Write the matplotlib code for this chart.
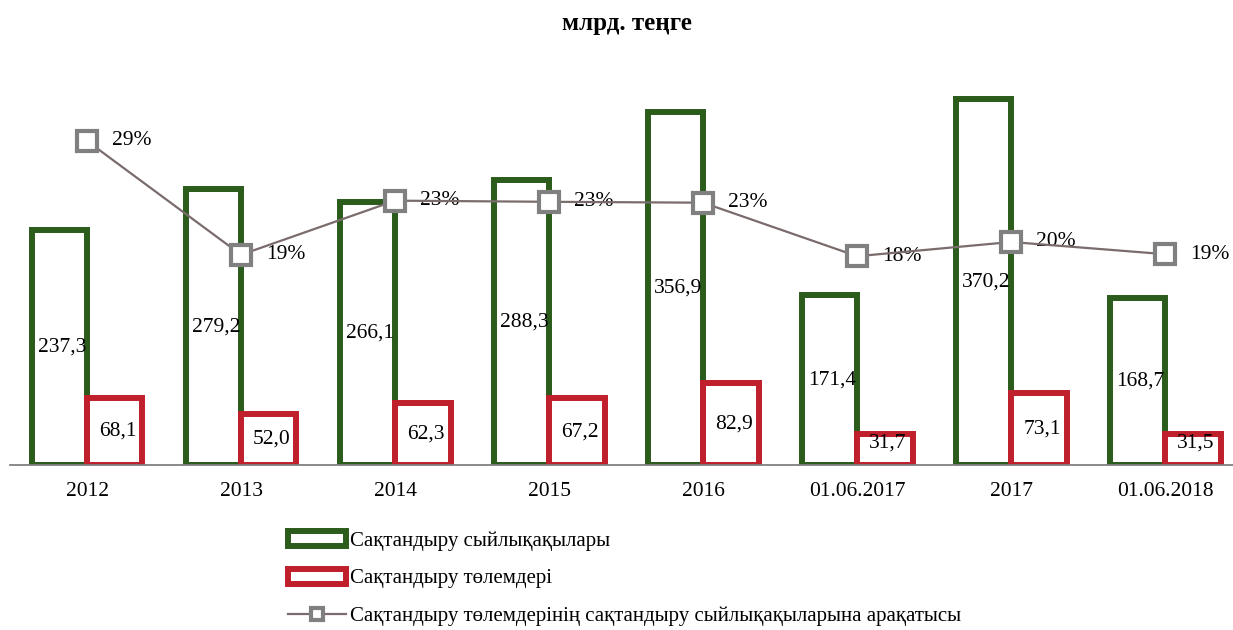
import matplotlib
matplotlib.use("Agg")
import matplotlib.pyplot as plt
import numpy as np

# данные
periods = ["2012", "2013", "2014", "2015", "2016", "01.06.2017", "2017", "01.06.2018"]
premiums = [237.3, 279.2, 266.1, 288.3, 356.9, 171.4, 370.2, 168.7]
payments = [68.1, 52.0, 62.3, 67.2, 82.9, 31.7, 73.1, 31.5]
ratio_pct = [28.70, 18.62, 23.41, 23.31, 23.23, 18.49, 19.75, 18.67]

GREEN = "#2b5c1c"
RED = "#c01f2c"
GRAY = "#808080"
LINE = "#7a6c6c"

plt.rcParams["font.family"] = ["Liberation Serif", "DejaVu Serif"]

fig = plt.figure(figsize=(12.33, 6.3), dpi=100)
ax = fig.add_axes([10 / 1233, 165 / 630, 1223 / 1233, 396 / 630])
ax2 = ax.twinx()

x = np.arange(len(periods))
w = 0.36
off = 0.18
b1 = ax.bar(x - off, premiums, w, facecolor="white", edgecolor=GREEN,
            linewidth=4.3, label="Сақтандыру сыйлықақылары", zorder=2)
b2 = ax.bar(x + off, payments, w, facecolor="white", edgecolor=RED,
            linewidth=4.3, label="Сақтандыру төлемдері", zorder=3)

for xi, v in zip(x, premiums):
    ax.text(xi - off + 0.02, v / 2, f"{v:.1f}".replace(".", ","), ha="center",
            va="center", fontsize=15.5, zorder=5)
for xi, v in zip(x, payments):
    ax.text(xi + off + 0.02, max(v / 2, 22), f"{v:.1f}".replace(".", ","), ha="center",
            va="center", fontsize=15.5, zorder=5)

ax.set_xlim(-0.5, 7.44)
ax.set_ylim(0, 400)
ax.set_yticks([])
ax.set_xticks(x)
ax.set_xticklabels(periods, fontsize=15.5)
ax.tick_params(axis="x", length=0, pad=12)
for s in ["top", "left", "right"]:
    ax.spines[s].set_visible(False)
ax.spines["bottom"].set_color(GRAY)
ax.spines["bottom"].set_linewidth(1.3)
ax.spines["bottom"].set_zorder(6)

ln, = ax2.plot(x, ratio_pct, color=LINE, linewidth=1.6, marker="s", markersize=14,
               markerfacecolor="white", markeredgecolor=GRAY, markeredgewidth=3,
               label="Сақтандыру төлемдерінің сақтандыру сыйлықақыларына арақатысы",
               zorder=4)
for xi, v in zip(x, ratio_pct):
    ax2.annotate(f"{v:.0f}%", (xi, v), xytext=(18, 0), textcoords="offset points",
                 ha="left", va="center", fontsize=15.5)
ax2.set_ylim(0, 35.07)
ax2.set_yticks([])
for s in ax2.spines.values():
    s.set_visible(False)

fig.text(0.5085, 0.962, "млрд. теңге", ha="center", va="center",
         fontsize=18, fontweight="bold")

fig.legend(handles=[b1, b2, ln], loc="upper left",
           bbox_to_anchor=(288 / 1233, 1 - 531 / 630), frameon=False,
           fontsize=15, handlelength=2.8, handletextpad=0.2,
           labelspacing=0.88, borderpad=0, borderaxespad=0, markerscale=0.65)

fig.savefig("out.png", dpi=100)
